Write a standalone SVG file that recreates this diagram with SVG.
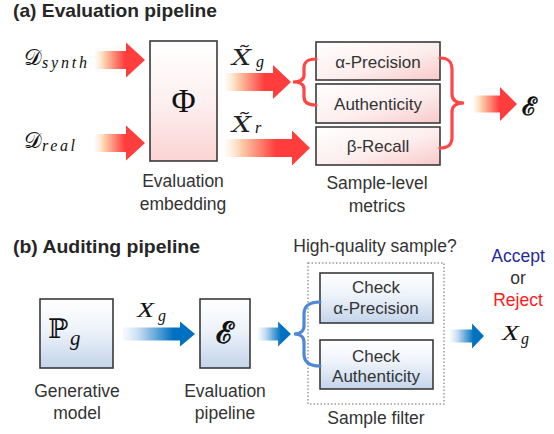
<svg xmlns="http://www.w3.org/2000/svg" width="554" height="434" viewBox="0 0 554 434">
<defs>
<linearGradient id="gRedArrow" x1="0" y1="0" x2="1" y2="0">
<stop offset="0" stop-color="#fff3e6" stop-opacity="0.4"/>
<stop offset="0.18" stop-color="#fcd2ae"/>
<stop offset="0.6" stop-color="#ff3d3d"/>
<stop offset="1" stop-color="#ff3d3d"/>
</linearGradient>
<linearGradient id="gBlueArrow" x1="0" y1="0" x2="1" y2="0">
<stop offset="0" stop-color="#eaf3fb" stop-opacity="0.5"/>
<stop offset="0.25" stop-color="#b9d6ee"/>
<stop offset="0.7" stop-color="#0070c0"/>
<stop offset="1" stop-color="#0070c0"/>
</linearGradient>
<linearGradient id="gPinkV" x1="0" y1="0" x2="0" y2="1">
<stop offset="0" stop-color="#ffffff"/>
<stop offset="0.5" stop-color="#fdf0f0"/>
<stop offset="1" stop-color="#fbd3d3"/>
</linearGradient>
<linearGradient id="gPinkD" x1="0" y1="0" x2="1" y2="1">
<stop offset="0" stop-color="#ffffff"/>
<stop offset="0.55" stop-color="#fdeeee"/>
<stop offset="1" stop-color="#f9c9c9"/>
</linearGradient>
<linearGradient id="gBlueV" x1="0" y1="0" x2="0" y2="1">
<stop offset="0" stop-color="#ffffff"/>
<stop offset="0.45" stop-color="#eef3fa"/>
<stop offset="1" stop-color="#c3d4eb"/>
</linearGradient>
<style>
.box{stroke:#3a3a3a;stroke-width:1.6}
.lbl{font-family:"Liberation Sans",Arial,sans-serif;font-size:17.5px;fill:#333;text-anchor:middle}
.btx{font-family:"Liberation Sans",Arial,sans-serif;font-size:17px;fill:#333;text-anchor:middle}
.ttl{font-family:"Liberation Sans",Arial,sans-serif;font-size:18.5px;font-weight:bold;fill:#262626}
.math{font-family:"Liberation Serif","DejaVu Serif",serif;font-style:italic;fill:#111}
.mathd{font-family:"DejaVu Serif","Liberation Serif",serif;font-style:italic;fill:#222}
.cal{font-family:"DejaVu Serif","Liberation Serif",serif;fill:#111}
.rbrace{fill:none;stroke:#ff4646;stroke-width:3.2;stroke-linecap:round}
.bbrace{fill:none;stroke:#4f88d4;stroke-width:3.2;stroke-linecap:round}
.ra{fill:url(#gRedArrow)}
.ba{fill:url(#gBlueArrow)}
</style>
</defs>

<text class="ttl" x="13" y="17" textLength="204" lengthAdjust="spacingAndGlyphs">(a) Evaluation pipeline</text>
<text class="ttl" x="13" y="253" textLength="187" lengthAdjust="spacingAndGlyphs">(b) Auditing pipeline</text>

<g id="in-synth">
<text class="cal" x="24" y="65" font-size="22">𝒟</text>
<text class="math" x="42" y="68" font-size="16" textLength="45" lengthAdjust="spacing">synth</text>
</g>
<g id="in-real">
<text class="cal" x="24" y="148" font-size="22">𝒟</text>
<text class="math" x="42" y="151" font-size="16" textLength="33" lengthAdjust="spacing">real</text>
</g>

<g id="phi">
<rect class="box" x="150" y="41" width="67" height="120" fill="url(#gPinkV)"/>
<text x="183.5" y="112" font-family="Liberation Serif,serif" font-size="33" text-anchor="middle" fill="#111">Φ</text>
<text class="lbl" x="183" y="187">Evaluation</text>
<text class="lbl" x="183" y="210">embedding</text>
</g>

<g id="xg-label">
<text class="mathd" font-size="21.5"><tspan x="232" y="65" textLength="19" lengthAdjust="spacingAndGlyphs">X̃</tspan><tspan class="math" x="256" y="67" font-size="16">g</tspan></text>
</g>
<g id="xr-label">
<text class="mathd" font-size="21.5"><tspan x="232" y="132" textLength="19" lengthAdjust="spacingAndGlyphs">X̃</tspan><tspan class="math" x="255" y="133" font-size="16">r</tspan></text>
</g>

<g id="alpha-precision">
<rect class="box" x="316" y="42" width="124" height="38" fill="url(#gPinkD)"/>
<text class="btx" x="378" y="68">α-Precision</text>
</g>
<g id="authenticity">
<rect class="box" x="316" y="84" width="124" height="39" fill="url(#gPinkD)"/>
<text class="btx" x="378" y="110">Authenticity</text>
</g>
<g id="beta-recall">
<rect class="box" x="316" y="127" width="124" height="38" fill="url(#gPinkD)"/>
<text class="btx" x="378" y="152">β-Recall</text>
</g>
<g id="metrics-label">
<text class="lbl" x="377" y="189">Sample-level</text>
<text class="lbl" x="377" y="212">metrics</text>
</g>

<g id="e-out">
<text class="cal" x="522" y="115" font-size="25" font-weight="bold">ℰ</text>
</g>

<g id="pg">
<rect class="box" x="40" y="299" width="73" height="69" fill="url(#gBlueV)"/>
<text x="48" y="338" font-family="DejaVu Serif,serif" font-size="27" fill="#111">ℙ</text>
<text class="math" x="70" y="345" font-size="21">g</text>
<text class="lbl" x="77" y="397">Generative</text>
<text class="lbl" x="77" y="419">model</text>
</g>

<g id="eval-pipeline">
<rect class="box" x="200" y="299" width="50" height="69" fill="url(#gBlueV)"/>
<text class="cal" x="225" y="343" font-size="30" font-weight="bold" text-anchor="middle">ℰ</text>
<text class="lbl" x="225" y="397">Evaluation</text>
<text class="lbl" x="225" y="419">pipeline</text>
</g>

<g id="xg-b-label">
<text class="math"><tspan x="137" y="317" font-size="22" textLength="17" lengthAdjust="spacingAndGlyphs">X</tspan><tspan x="158" y="321" font-size="16">g</tspan></text>
</g>

<g id="sample-filter">
<rect x="308" y="263" width="136" height="141" fill="none" stroke="#9a9a9a" stroke-width="1.5" stroke-dasharray="1.5,2"/>
<text class="lbl" x="375" y="252">High-quality sample?</text>
<text class="lbl" x="376" y="424">Sample filter</text>
</g>
<g id="check-alpha">
<rect class="box" x="320" y="273" width="113" height="50" fill="url(#gBlueV)"/>
<text class="btx" x="376" y="293">Check</text>
<text class="btx" x="376" y="314">α-Precision</text>
</g>
<g id="check-auth">
<rect class="box" x="320" y="340" width="113" height="49" fill="url(#gBlueV)"/>
<text class="btx" x="376" y="362">Check</text>
<text class="btx" x="376" y="382">Authenticity</text>
</g>

<g id="decision">
<text class="lbl" x="518" y="262" style="fill:#1f2a9c">Accept</text>
<text class="lbl" x="518" y="284">or</text>
<text class="lbl" x="518" y="306" style="fill:#ff1a1a">Reject</text>
<text class="math"><tspan x="502" y="340" font-size="22" textLength="17" lengthAdjust="spacingAndGlyphs">X</tspan><tspan x="521" y="344" font-size="16">g</tspan></text>
</g>

<g id="connectors">
<path class="ra" d="M95,51 H126 V42.5 L145,60 L126,77.5 V69 H95 Z"/>
<path class="ra" d="M95,134 H126 V125.5 L145,143 L126,160.5 V152 H95 Z"/>
<path class="ra" d="M225,73 H273 V65 L291,82 L273,99 V91 H225 Z"/>
<path class="ra" d="M225,139 H292 V130.5 L310,148 L292,165.5 V157 H225 Z"/>
<path class="ra" d="M473,95.5 H500 V87 L517,104 L500,121 V112.5 H473 Z"/>
<path class="rbrace" d="M316,59 C307,59 304,62 304,68 L304,75 C304,80 300,82 293,82 C300,82 304,84 304,89 L304,97 C304,102 307,105 316,105"/>
<path class="rbrace" d="M440,58 C449,58 452,62 452,70 L452,94 C452,100 456,103 464,103 C456,103 452,106 452,112 L452,137 C452,144 449,148 440,148"/>
<path class="ba" d="M123,327.5 H180 V321.5 L195,334 L180,346.5 V340.5 H123 Z"/>
<path class="ba" d="M258,327.5 H278 V321.5 L291,334 L278,346.5 V340.5 H258 Z"/>
<path class="ba" d="M450,329.5 H472 V323.5 L484,336 L472,348.5 V342.5 H450 Z"/>
<path class="bbrace" d="M320,302 C309,302 304,306 304,314 L304,326 C304,331 300,334 294,334 C300,334 304,337 304,342 L304,354 C304,362 309,366 320,366"/>
</g>
</svg>
